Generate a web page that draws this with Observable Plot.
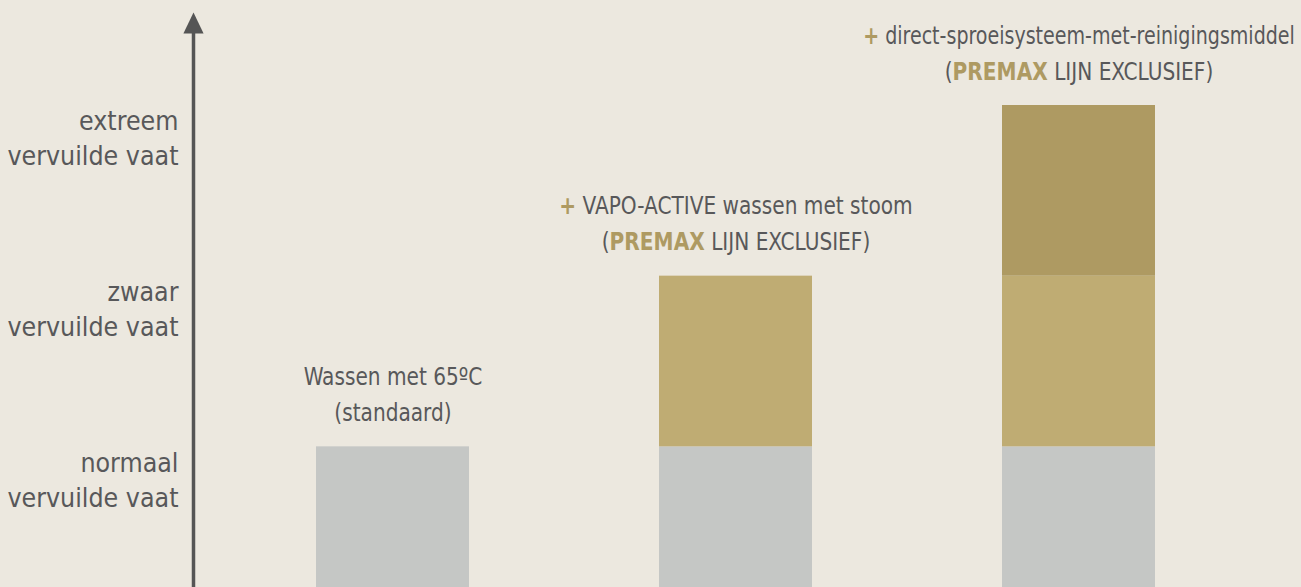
<!DOCTYPE html>
<html>
<head>
<meta charset="utf-8">
<script src="https://cdn.jsdelivr.net/npm/d3@7"></script>
<script src="https://cdn.jsdelivr.net/npm/@observablehq/plot@0.6"></script>
<style>
  html, body { margin: 0; padding: 0; background: #ECE8DF; overflow: hidden; }
  #chart svg { display: block; overflow: hidden; }
</style>
</head>
<body>
<div id="chart"></div>
<script>
// ---- data ----
const methods = ["Wassen met 65ºC", "VAPO-ACTIVE", "direct-sproeisysteem"];
const methodLine1 = ["Wassen met 65ºC", "+ VAPO-ACTIVE wassen met stoom", "+ direct-sproeisysteem-met-reinigingsmiddel"];
const methodLine2 = ["(standaard)", "(PREMAX LIJN EXCLUSIEF)", "(PREMAX LIJN EXCLUSIEF)"];
const methodLevel = [1, 2, 3];               // reached soiling level per method
const layers = ["normaal", "zwaar", "extreem"];
const layerColors = ["#C5C7C5", "#BFAC73", "#AE9A62"];
const levelLabels = ["normaal\nvervuilde vaat", "zwaar\nvervuilde vaat", "extreem\nvervuilde vaat"];
const levelValues = [1, 2, 3];

// ---- derived tables ----
const segments = methods.flatMap((m, i) =>
  layers.slice(0, methodLevel[i]).map(layer => ({method: m, layer, value: 1}))
);
const annotations = methods.map((m, i) => ({method: m, top: methodLevel[i], l1: methodLine1[i], l2: methodLine2[i]}));
const yLabels = levelValues.map((v, i) => ({y: v, label: levelLabels[i]}));

const W = 1301;
const ink = "#58585A";
const gold = "#AE9A62";
const condensed = "'DejaVu Sans Condensed', 'Liberation Sans Narrow', sans-serif";

const arrowHead = {
  draw(context, size) {
    const r = Math.sqrt(size / Math.PI);
    const w = r * 0.48;
    context.moveTo(0, -r);
    context.lineTo(w, 0);
    context.lineTo(-w, 0);
    context.closePath();
  }
};

const chart = Plot.plot({
  width: W,
  height: 587,
  marginLeft: 193,
  marginRight: 24,
  marginTop: 33,
  marginBottom: 0,
  style: {background: "#ECE8DF", color: ink},
  x: {type: "band", domain: methods, paddingInner: 0.555, paddingOuter: 0.355, axis: null},
  y: {domain: [0, 3], range: [617, 105], axis: null},
  color: {domain: layers, range: layerColors},
  marks: [
    Plot.barY(segments, {x: "method", y: "value", fill: "layer", clip: true, inset: 0}),
    Plot.frame({anchor: "left", stroke: "#555555", strokeWidth: 3.5}),
    Plot.dot([0], {frameAnchor: "top-left", symbol: arrowHead, r: 21, fill: "#555555", stroke: "none"}),
    Plot.text(yLabels, {
      y: "y", text: "label", frameAnchor: "left", textAnchor: "end", dx: -15, dy: 31,
      lineAnchor: "middle", lineHeight: 1.32, fontSize: 26.5, fontFamily: condensed, fill: ink
    }),
    Plot.text(annotations, {
      x: "method", y: "top", text: "l1", dy: -62, lineAnchor: "bottom",
      fontSize: 25, fontFamily: condensed, fill: ink
    }),
    Plot.text(annotations, {
      x: "method", y: "top", text: "l2", dy: -26, lineAnchor: "bottom",
      fontSize: 25, fontFamily: condensed, fill: ink
    })
  ]
});

document.getElementById("chart").append(chart);

// colour the "+" and "PREMAX" parts and narrow the annotation texts (condensed look)
const annotTexts = new Set([...methodLine1, ...methodLine2]);
d3.select(chart).selectAll("text")
  .filter(function() { return annotTexts.has(this.textContent); })
  .each(function() {
    const s = this.textContent;
    const parts = s.split(/(\+|PREMAX)/).filter(p => p !== "");
    const sel = d3.select(this);
    sel.text(null);
    parts.forEach(p => {
      const t = sel.append("tspan").text(p);
      if (p === "+" || p === "PREMAX") t.attr("fill", gold).attr("font-weight", "bold");
    });
    const len = this.getComputedTextLength();
    const ax = +(this.getAttribute("x") || 0);
    const ctm = this.getCTM();
    const cxAbs = (ctm ? ctm.e + ctm.a * ax : ax);
    const k = Math.min(0.895, 2 * (W - 6 - cxAbs) / len);
    const prev = this.getAttribute("transform") || "";
    sel.attr("transform", `${prev} translate(${ax},0) scale(${k},1) translate(${-ax},0)`.trim());
  });
</script>
</body>
</html>
